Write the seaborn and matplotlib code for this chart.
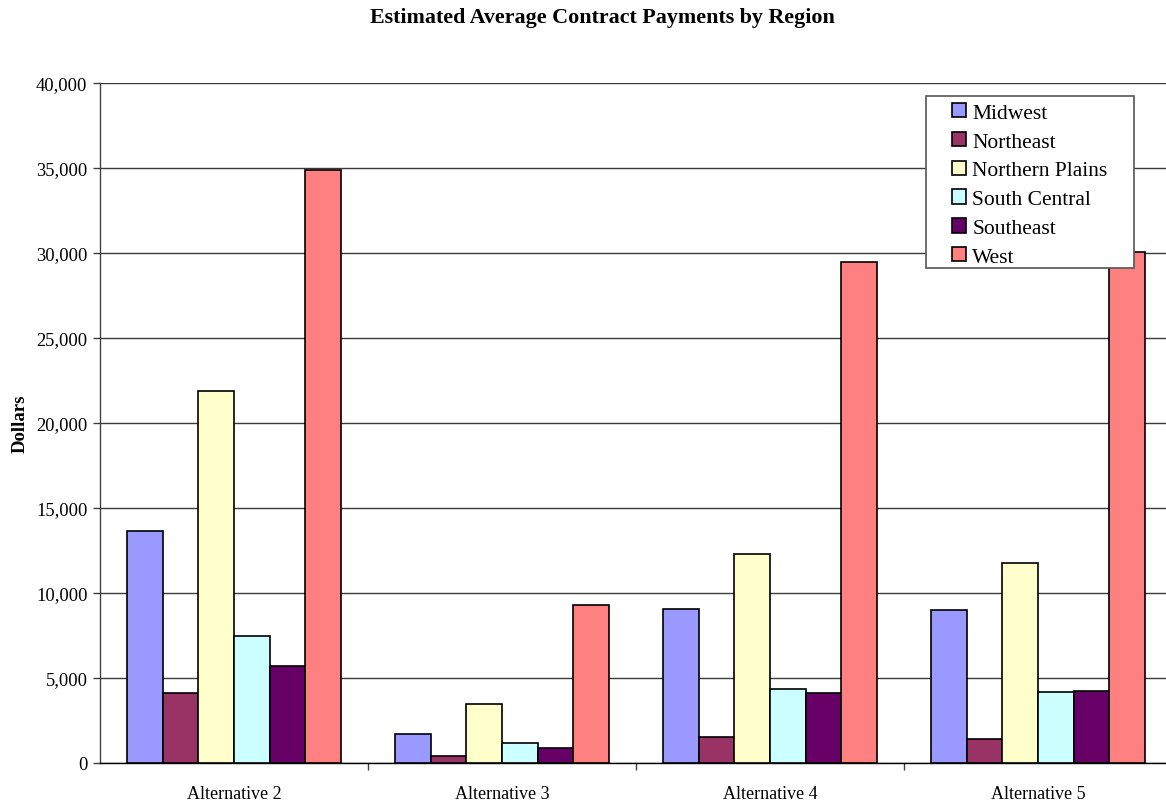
import matplotlib
matplotlib.use("Agg")
import matplotlib.pyplot as plt
import matplotlib.ticker as mticker
from matplotlib.patches import Rectangle
import seaborn as sns
import pandas as pd

alternatives = ["Alternative 2", "Alternative 3", "Alternative 4", "Alternative 5"]
regions = ["Midwest", "Northeast", "Northern Plains", "South Central", "Southeast", "West"]
midwest = [13600, 1660, 9060, 9000]
northeast = [4100, 370, 1480, 1390]
northern_plains = [21850, 3430, 12290, 11750]
south_central = [7470, 1140, 4350, 4130]
southeast = [5660, 840, 4090, 4190]
west = [34860, 9300, 29490, 30040]
colors = ["#9999FF", "#993366", "#FFFFCC", "#CCFFFF", "#660066", "#FF8080"]

series = [midwest, northeast, northern_plains, south_central, southeast, west]
rows = []
for region, vals in zip(regions, series):
    for alt, v in zip(alternatives, vals):
        rows.append({"Alternative": alt, "Region": region, "Dollars": v})
df = pd.DataFrame(rows)

sns.set_style("white")
plt.rcParams["font.family"] = ["Liberation Serif", "DejaVu Serif"]
plt.rcParams.update({"text.color": "black", "axes.labelcolor": "black",
                     "xtick.labelcolor": "black", "ytick.labelcolor": "black"})

W, H = 1166, 803
fig = plt.figure(figsize=(W / 100, H / 100), dpi=100)
# plot area runs slightly past the right edge of the canvas
ax = fig.add_axes([100 / W, 1 - 763.5 / H, 1072 / W, 679.5 / H])

sns.barplot(data=df, x="Alternative", y="Dollars", hue="Region",
            hue_order=regions, order=alternatives, palette=colors,
            width=0.8, edgecolor="black", linewidth=1.2, saturation=1,
            errorbar=None, ax=ax, zorder=3)

ax.set_ylim(0, 40000)
ax.set_xlim(-0.5, 3.5)
ax.yaxis.set_major_locator(mticker.MultipleLocator(5000))
ax.yaxis.set_major_formatter(mticker.FuncFormatter(lambda v, p: f"{int(v):,}"))
ax.grid(axis="y", color="#3a3a3a", linewidth=1, zorder=0)
ax.set_axisbelow(True)

for side in ["top", "right"]:
    ax.spines[side].set_visible(False)
ax.spines["left"].set_color("#404040")
ax.spines["bottom"].set_color("black")
ax.spines["left"].set_linewidth(1)
ax.spines["bottom"].set_linewidth(1)

# ticks between categories, labels centred under each group
ax.set_xticks(range(len(alternatives)))
ax.set_xticklabels(alternatives, fontsize=13)
ax.xaxis.set_minor_locator(mticker.FixedLocator([0.5, 1.5, 2.5]))
ax.tick_params(axis="x", which="major", length=0, pad=16)
ax.tick_params(axis="x", which="minor", length=5, width=1, color="#404040", direction="out", bottom=True)
ax.tick_params(axis="y", length=5, width=1, color="#404040", direction="out", left=True, labelsize=13.3, pad=4)

ax.set_xlabel("")
ax.set_ylabel("Dollars", fontsize=13.5, fontweight="bold", labelpad=5)

fig.text(602 / W, 1 - 8 / H, "Estimated Average Contract Payments by Region",
         fontsize=15.8, fontweight="bold", ha="center", va="top")

if ax.get_legend() is not None:
    ax.get_legend().remove()
handles, labels = ax.get_legend_handles_labels()
for h in handles:
    h.set_linewidth(1.2)

# legend box drawn over the plot
frame = Rectangle((926 / W, 1 - 269 / H), (1134 - 926) / W, (269 - 97) / H,
                  transform=fig.transFigure, facecolor="white",
                  edgecolor="#555555", linewidth=1.2, zorder=20)
fig.add_artist(frame)
leg = fig.legend(handles, labels, loc="upper left",
                 bbox_to_anchor=(952 / W, 1 - 104 / H), bbox_transform=fig.transFigure,
                 prop={"size": 15.5}, frameon=False, borderpad=0,
                 handlelength=0.65, handleheight=0.65, handletextpad=0.3,
                 labelspacing=0.42, borderaxespad=0)
leg.set_zorder(30)

fig.savefig("out.png", dpi=100, facecolor="white")
